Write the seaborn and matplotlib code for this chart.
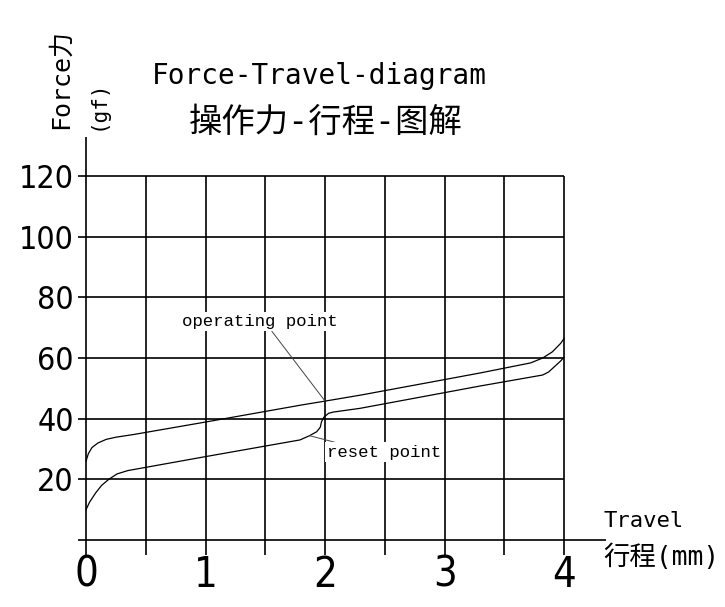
import pandas as pd
import seaborn as sns
import matplotlib.pyplot as plt

# operating (press) curve, travel mm vs force gf
press_x = [0, 0.02, 0.05, 0.1, 0.17, 0.25, 0.4, 1.0, 1.8, 2.0, 2.3, 3.0, 3.3,
           3.72, 3.82, 3.9, 3.97, 4.0]
press_y = [26, 28.5, 30.5, 32.0, 33.2, 33.9, 34.8, 38.9, 44.5, 45.8, 47.8, 52.9,
           55.1, 58.4, 60.0, 62.0, 64.8, 66.5]

# reset (release) curve
release_x = [0, 0.03, 0.08, 0.13, 0.19, 0.26, 0.35, 1.0, 1.79, 1.87, 1.93, 1.96,
             1.97, 1.99, 2.03, 2.07, 2.29, 3.0, 3.3, 3.82, 3.87, 3.97, 4.0]
release_y = [10, 12.5, 15.5, 18.0, 20.0, 21.8, 22.9, 27.5, 33.0, 34.4, 35.7, 37.2,
             39.0, 40.5, 41.8, 42.2, 43.4, 48.6, 50.8, 54.4, 55.4, 59.0, 60.3]

x_ticks = [0, 1, 2, 3, 4]
y_ticks = [20, 40, 60, 80, 100, 120]
x_grid = [0.5, 1.0, 1.5, 2.0, 2.5, 3.0, 3.5, 4.0]

df = pd.concat([
    pd.DataFrame({"travel": press_x, "force": press_y, "curve": "operating"}),
    pd.DataFrame({"travel": release_x, "force": release_y, "curve": "reset"}),
])

sns.set_theme(style="white", rc={"text.color": "black",
                                 "xtick.color": "black", "ytick.color": "black"})
mono = ["DejaVu Sans Mono", "Noto Sans CJK SC"]

fig = plt.figure(figsize=(7.25, 6.07), dpi=100)
ax = fig.add_axes([78 / 725, 51.8 / 607, 528 / 725, 418.6 / 607])

# grid, drawn by hand since the lines stick out past the box
ax.hlines(y_ticks, -0.067, 4, color="black", lw=1.2)
ax.hlines(0, -0.067, 4.35, color="black", lw=1.2)
ax.vlines(x_grid, -5, 120, color="black", lw=1.2)
ax.vlines(0, -5, 133, color="black", lw=1.2)

sns.lineplot(data=df, x="travel", y="force", units="curve", estimator=None,
             sort=False, color="black", lw=0.9, ax=ax)

ax.set_xlim(-0.067, 4.35)
ax.set_ylim(-5, 133)
for s in ax.spines.values():
    s.set_visible(False)
ax.set_xticks(x_ticks)
ax.set_yticks(y_ticks)
ax.set_xticklabels([str(v) for v in x_ticks], family="DejaVu Sans",
                   fontstretch="condensed", fontsize=30)
ax.set_yticklabels([str(v) for v in y_ticks], family="DejaVu Sans",
                   fontstretch="condensed", fontsize=23)
ax.tick_params(axis="x", length=0, pad=-1)
ax.tick_params(axis="y", length=0, pad=3)
ax.set_xlabel("")
ax.set_ylabel("")
ax.grid(False)

box = dict(fc="white", ec="none", pad=1.5)
ax.annotate("operating point", xy=(2.0, 45.8), xytext=(1.45, 72),
            ha="center", va="center", family="Liberation Mono", fontsize=12.5,
            bbox=box,
            arrowprops=dict(arrowstyle="-", color="#444444", lw=0.7,
                            relpos=(0.57, 0), shrinkA=0, shrinkB=0))
ax.annotate("reset point", xy=(1.87, 34.4), xytext=(2.49, 29),
            ha="center", va="center", family="Liberation Mono", fontsize=12.5,
            bbox=box,
            arrowprops=dict(arrowstyle="-", color="#444444", lw=0.7,
                            relpos=(0.15, 1), shrinkA=0, shrinkB=0))

fig.text(319 / 725, 1 - 76 / 607, "Force-Travel-diagram", family=mono,
         fontsize=20, ha="center", va="center")
fig.text(326 / 725, 1 - 122 / 607, "操作力-行程-图解", family=mono,
         fontsize=24, ha="center", va="center")
fig.text(61 / 725, 1 - 79 / 607, "Force力", family=mono, fontsize=18,
         rotation=90, ha="center", va="center")
fig.text(98 / 725, 1 - 105 / 607, "(gf)", family=mono, fontsize=15,
         rotation=90, ha="center", va="center")
fig.text(603 / 725, 1 - 521 / 607, "Travel", family=mono, fontsize=16,
         ha="left", va="center")
fig.text(603 / 725, 1 - 558 / 607, "行程(mm)", family=mono, fontsize=19,
         ha="left", va="center")

fig.savefig("out.png", dpi=100, facecolor="white")
